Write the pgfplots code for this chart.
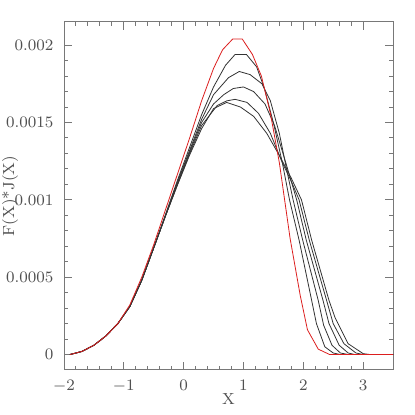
\documentclass[border=0pt]{standalone}
\usepackage{pgfplots}
\pgfplotsset{compat=1.18}
\definecolor{axgray}{RGB}{120,120,120}
\definecolor{txtgray}{RGB}{80,80,80}
\definecolor{curvered}{RGB}{220,30,30}

\begin{document}
\begin{tikzpicture}
\begin{axis}[
  scale only axis,
  width=164.5pt, height=174pt,
  xmin=-2, xmax=3.5,
  ymin=-0.0001, ymax=0.00215,
  xtick={-2,-1,0,1,2,3},
  ytick={0,0.0005,0.001,0.0015,0.002},
  yticklabels={0,0.0005,0.001,0.0015,0.002},
  scaled y ticks=false,
  minor x tick num=4, minor y tick num=4,
  tick align=inside,
  major tick length=4pt, minor tick length=2pt,
  tick style={axgray, line width=0.5pt},
  axis line style={axgray, line width=0.5pt},
  tick label style={font=\fontsize{8}{9.6}\selectfont, text=txtgray},
  yticklabel style={xshift=-1.8pt},
  xticklabel style={yshift=-1.5pt},
  label style={font=\fontsize{8}{9.6}\selectfont, text=txtgray},
  xlabel={X},
  ylabel={F(X)*J(X)},
  xlabel style={at={(axis description cs:0.5,0)}, anchor=center, yshift=-14.5pt},
  ylabel style={at={(axis description cs:0,0.5)}, anchor=center, yshift=27pt},
  every axis plot/.append style={line width=0.4pt, line join=round},
]
% black 1
\addplot[black!80] coordinates {
 (-1.9,0)(-1.7,0.00002)(-1.5,0.00006)(-1.3,0.00012)(-1.1,0.0002)(-0.9,0.00031)
 (-0.7,0.00048)(-0.5,0.00069)(-0.3,0.00091)(-0.1,0.00113)(0.1,0.00134)(0.3,0.00155)
 (0.5,0.00173)(0.7,0.00187)(0.86,0.00194)(1.05,0.00194)(1.22,0.00186)(1.35,0.00172)
 (1.5,0.0015)(1.65,0.00124)(1.77,0.001)(1.93,0.00074)(2.14,0.00035)(2.22,0.0002)
 (2.36,0.00005)(2.5,0.00001)(2.62,0)(3.5,0)};
% black 2
\addplot[black!80] coordinates {
 (-1.9,0)(-1.7,0.00002)(-1.5,0.00006)(-1.3,0.00012)(-1.1,0.0002)(-0.9,0.00031)
 (-0.7,0.00048)(-0.5,0.00069)(-0.3,0.0009)(-0.1,0.00112)(0.1,0.00132)(0.3,0.00152)
 (0.5,0.00168)(0.75,0.00179)(0.93,0.00183)(1.11,0.00181)(1.31,0.00175)(1.45,0.00164)
 (1.6,0.00143)(1.72,0.0012)(1.83,0.001)(1.99,0.00074)(2.25,0.00035)(2.34,0.00019)
 (2.48,0.00006)(2.62,0.00001)(2.75,0)(3.5,0)};
% black 3
\addplot[black!80] coordinates {
 (-1.9,0)(-1.7,0.00002)(-1.5,0.00006)(-1.3,0.00012)(-1.1,0.0002)(-0.9,0.00031)
 (-0.7,0.00048)(-0.5,0.00069)(-0.3,0.0009)(-0.1,0.00111)(0.1,0.00131)(0.3,0.0015)
 (0.5,0.00162)(0.67,0.00168)(0.83,0.00172)(1.0,0.00173)(1.17,0.0017)(1.36,0.00162)
 (1.52,0.00148)(1.7,0.00125)(1.89,0.001)(2.05,0.00074)(2.33,0.00035)(2.43,0.0002)
 (2.6,0.00006)(2.75,0.00001)(2.86,0)(3.5,0)};
% black 4
\addplot[black!80] coordinates {
 (-1.9,0)(-1.7,0.00002)(-1.5,0.00006)(-1.3,0.00012)(-1.1,0.0002)(-0.9,0.00031)
 (-0.7,0.00048)(-0.5,0.00069)(-0.3,0.0009)(-0.1,0.0011)(0.1,0.0013)(0.3,0.00148)
 (0.56,0.00161)(0.72,0.00164)(0.86,0.00165)(1.06,0.00163)(1.25,0.00156)(1.45,0.00143)
 (1.65,0.00124)(1.8,0.00112)(1.93,0.001)(2.1,0.00074)(2.39,0.00035)(2.5,0.0002)
 (2.68,0.00007)(2.88,0.00001)(3.0,0)(3.5,0)};
% black 5
\addplot[black!80] coordinates {
 (-1.9,0)(-1.7,0.00002)(-1.5,0.00006)(-1.3,0.00012)(-1.1,0.0002)(-0.9,0.00031)
 (-0.7,0.00048)(-0.5,0.00069)(-0.3,0.0009)(-0.1,0.0011)(0.1,0.00129)(0.3,0.00146)
 (0.5,0.00159)(0.72,0.00163)(0.95,0.0016)(1.17,0.00154)(1.39,0.00143)(1.61,0.00128)
 (1.8,0.00114)(1.97,0.001)(2.14,0.00074)(2.43,0.00035)(2.53,0.00024)(2.75,0.00007)
 (3.0,0.000006)(3.11,0)(3.5,0)};
% red
\addplot[curvered] coordinates {
 (-1.9,0)(-1.7,0.00002)(-1.5,0.00006)(-1.3,0.00012)(-1.1,0.0002)(-0.9,0.00032)
 (-0.7,0.0005)(-0.5,0.00071)(-0.3,0.00094)(-0.1,0.00117)(0.1,0.0014)(0.3,0.00164)
 (0.5,0.00185)(0.65,0.00197)(0.82,0.00204)(0.98,0.00204)(1.15,0.00194)(1.3,0.0018)
 (1.45,0.00156)(1.6,0.00124)(1.78,0.00075)(1.95,0.00038)(2.07,0.00016)(2.25,0.000035)
 (2.44,0)(3.5,0)};
\end{axis}
\pgfresetboundingbox
\path[use as bounding box] (-32pt,-22.5pt) rectangle (175.5pt,185pt);
\end{tikzpicture}
\end{document}
